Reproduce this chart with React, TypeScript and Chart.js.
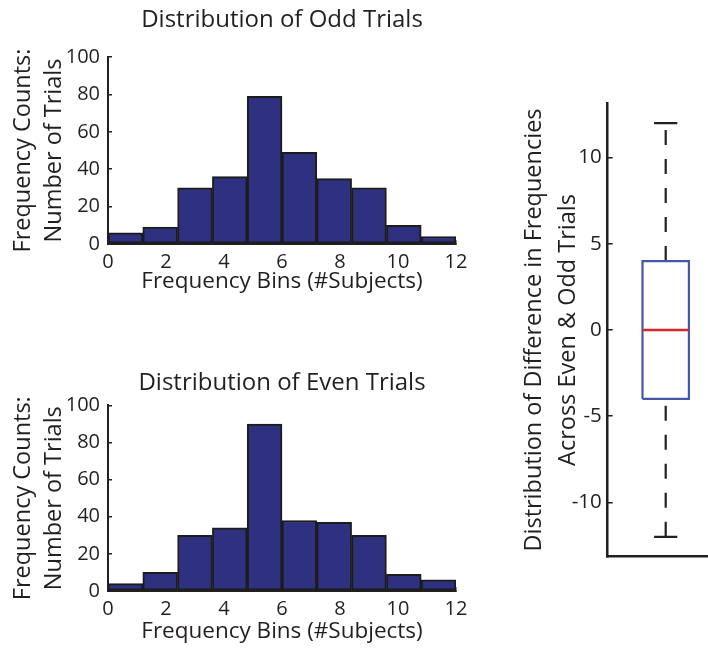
import React, { useEffect, useRef } from "react";
import { Chart, registerables } from "chart.js";

Chart.register(...registerables);

// ---------------- data ----------------
const binCenters = [0.6, 1.8, 3.0, 4.2, 5.4, 6.6, 7.8, 9.0, 10.2, 11.4];
const oddCounts = [6, 9, 30, 36, 79, 49, 35, 30, 10, 4];
const evenCounts = [4, 10, 30, 34, 90, 38, 37, 30, 9, 6];
const histXTicks = [0, 2, 4, 6, 8, 10, 12];
const histYTicks = [0, 20, 40, 60, 80, 100];
const diffQuartiles = [-4, 0, 4]; // lower quartile, median, upper quartile
const diffWhiskers = [-12, 12]; // lower whisker, upper whisker
const diffYTicks = [-10, -5, 0, 5, 10];
const diffRange = [-13.15, 13.15];

// ---------------- styles ----------------
const FONT = "'Open Sans', sans-serif";
const TEXT = "#231f20";
const AXIS = "#231f20";
const BAR_FILL = "#2e3180";
const BAR_EDGE = "#1c1c1c";
const BOX_BLUE = "#4657ab";
const MED_RED = "#d4262b";
const BOX_HALF = 0.2;
const CAP_HALF = 0.1;
const BOX_X = 1;

function histConfig(
  title: string,
  counts: number[],
  padTop: number,
  padBottom: number,
  xTitlePadBottom: number
): any {
  return {
    type: "bar",
    data: {
      datasets: [
        {
          data: binCenters.map((x, i) => ({ x, y: counts[i] })),
          backgroundColor: BAR_FILL,
          borderColor: BAR_EDGE,
          borderWidth: 2,
          borderSkipped: false,
          barPercentage: 1,
          categoryPercentage: 1,
        },
      ],
    },
    options: {
      responsive: false,
      animation: false,
      events: [],
      layout: { padding: { left: 0, right: 24, top: 0, bottom: 0 } },
      plugins: {
        legend: { display: false },
        tooltip: { enabled: false },
        title: {
          display: true,
          fullSize: false,
          text: title,
          color: TEXT,
          font: { family: FONT, size: 24, weight: "normal", lineHeight: 1.2 },
          padding: { top: padTop, bottom: padBottom },
        },
      },
      scales: {
        x: {
          type: "linear",
          min: 0,
          max: 12,
          offset: false,
          afterBuildTicks: (s: any) => {
            s.ticks = histXTicks.map((v) => ({ value: v }));
          },
          afterFit: (s: any) => {
            s.height = 56;
          },
          grid: {
            display: true,
            drawOnChartArea: false,
            drawTicks: true,
            tickLength: -4,
            color: AXIS,
            lineWidth: 1.5,
            offset: false,
          },
          border: { display: true, color: AXIS, width: 2 },
          ticks: {
            color: TEXT,
            font: { family: FONT, size: 20 },
            padding: 10.5,
            maxRotation: 0,
            autoSkip: false,
          },
          title: {
            display: true,
            text: "Frequency Bins (#Subjects)",
            color: TEXT,
            font: { family: FONT, size: 22.5 },
            padding: { top: 0, bottom: xTitlePadBottom },
          },
        },
        y: {
          min: 0,
          max: 100,
          afterBuildTicks: (s: any) => {
            s.ticks = histYTicks.map((v) => ({ value: v }));
          },
          afterFit: (s: any) => {
            s.width = 108;
          },
          grid: {
            display: true,
            drawOnChartArea: false,
            drawTicks: true,
            tickLength: -4,
            color: AXIS,
            lineWidth: 1.5,
          },
          border: { display: true, color: AXIS, width: 2 },
          ticks: {
            color: TEXT,
            font: { family: FONT, size: 20 },
            padding: 12,
          },
          title: {
            display: true,
            text: ["Frequency Counts:", "Number of Trials"],
            color: TEXT,
            font: { family: FONT, size: 23.5, lineHeight: 1.3 },
            padding: { top: 8, bottom: 0 },
          },
        },
      },
    },
  };
}

function lineSet(
  data: { x: number; y: number }[],
  color: string,
  order: number,
  width: number,
  dash: number[] = []
) {
  return {
    data,
    showLine: true,
    borderColor: color,
    backgroundColor: color,
    borderWidth: width,
    borderDash: dash,
    borderCapStyle: "butt",
    pointRadius: 0,
    fill: false,
    tension: 0,
    order,
  };
}

function boxConfig(): any {
  const [q1, med, q3] = diffQuartiles;
  const [wLo, wHi] = diffWhiskers;
  return {
    type: "scatter",
    data: {
      datasets: [
        lineSet(
          [
            { x: BOX_X - BOX_HALF, y: med },
            { x: BOX_X + BOX_HALF, y: med },
          ],
          MED_RED,
          0,
          2.6
        ),
        lineSet(
          [
            { x: BOX_X - BOX_HALF, y: q1 },
            { x: BOX_X + BOX_HALF, y: q1 },
            { x: BOX_X + BOX_HALF, y: q3 },
            { x: BOX_X - BOX_HALF, y: q3 },
            { x: BOX_X - BOX_HALF, y: q1 },
          ],
          BOX_BLUE,
          1,
          2.2
        ),
        lineSet(
          [
            { x: BOX_X, y: q3 },
            { x: BOX_X, y: wHi },
          ],
          AXIS,
          2,
          2.2,
          [15, 14]
        ),
        lineSet(
          [
            { x: BOX_X, y: wLo },
            { x: BOX_X, y: q1 },
          ],
          AXIS,
          2,
          2.2,
          [15, 14]
        ),
        lineSet(
          [
            { x: BOX_X - CAP_HALF, y: wHi },
            { x: BOX_X + CAP_HALF, y: wHi },
          ],
          AXIS,
          2,
          2.2
        ),
        lineSet(
          [
            { x: BOX_X - CAP_HALF, y: wLo },
            { x: BOX_X + CAP_HALF, y: wLo },
          ],
          AXIS,
          2,
          2.2
        ),
      ],
    },
    options: {
      responsive: false,
      animation: false,
      events: [],
      layout: { padding: { left: 0, right: 0.3, top: 22.7, bottom: 0 } },
      plugins: {
        legend: { display: false },
        tooltip: { enabled: false },
      },
      scales: {
        x: {
          type: "linear",
          min: 0.5,
          max: 1.5,
          afterFit: (s: any) => {
            s.height = 30.3;
          },
          grid: { display: false },
          border: { display: true, color: AXIS, width: 2.5 },
          ticks: { display: false },
        },
        y: {
          type: "linear",
          min: diffRange[0],
          max: diffRange[1],
          afterBuildTicks: (s: any) => {
            s.ticks = diffYTicks.map((v) => ({ value: v }));
          },
          afterFit: (s: any) => {
            s.width = 117.7;
          },
          grid: {
            display: true,
            drawOnChartArea: false,
            drawTicks: true,
            tickLength: -5,
            color: AXIS,
            lineWidth: 1.5,
          },
          border: { display: true, color: AXIS, width: 2.5 },
          ticks: {
            color: TEXT,
            font: { family: FONT, size: 20.5 },
            padding: 11,
          },
          title: {
            display: true,
            text: [
              "Distribution of Difference in Frequencies",
              "Across Even & Odd Trials",
            ],
            color: TEXT,
            font: { family: FONT, size: 23.5, lineHeight: 1.42 },
            padding: { top: 28, bottom: 0 },
          },
        },
      },
    },
  };
}

function ChartCanvas({
  makeConfig,
  left,
  top,
  width,
  height,
}: {
  makeConfig: () => any;
  left: number;
  top: number;
  width: number;
  height: number;
}) {
  const ref = useRef<HTMLCanvasElement | null>(null);
  useEffect(() => {
    if (!ref.current) return;
    const chart = new Chart(ref.current, makeConfig());
    return () => chart.destroy();
  }, []);
  return (
    <canvas
      ref={ref}
      width={width}
      height={height}
      style={{
        position: "absolute",
        left,
        top,
        width,
        height,
        display: "block",
      }}
    />
  );
}

export default function App() {
  return (
    <div
      style={{
        position: "absolute",
        left: 0,
        top: 0,
        width: 708,
        height: 649,
        overflow: "hidden",
        background: "#ffffff",
      }}
    >
      <ChartCanvas
        makeConfig={() => histConfig("Distribution of Odd Trials", oddCounts, 5.6, 22.6, 5)}
        left={0}
        top={0}
        width={480}
        height={300}
      />
      <ChartCanvas
        makeConfig={() => histConfig("Distribution of Even Trials", evenCounts, 21.3, 8.3, 2)}
        left={0}
        top={347.3}
        width={480}
        height={300}
      />
      <ChartCanvas makeConfig={boxConfig} left={490} top={80} width={234} height={507} />
    </div>
  );
}
